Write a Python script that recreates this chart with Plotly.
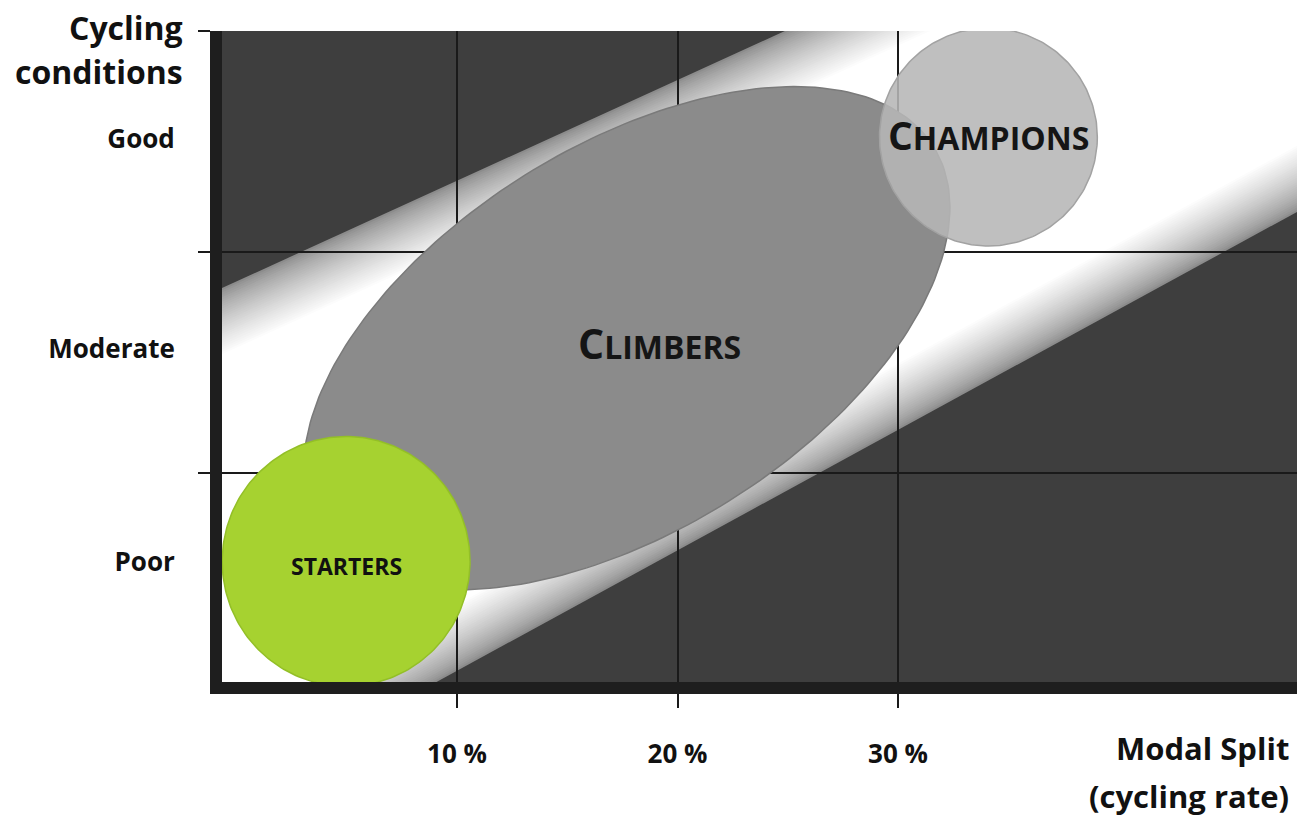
import numpy as np
import plotly.graph_objects as go

# ---------------- data ----------------
segments = ["STARTERS", "CLIMBERS", "CHAMPIONS"]
seg_x = [4.97, 17.7, 34.1]        # centre, modal split (%)
seg_y = [0.60, 1.61, 2.52]        # centre, cycling conditions (level)
seg_rx = [5.62, 16.4, 4.94]       # half extent along main axis (% units)
seg_ry = [0.565, 0.87, 0.493]     # half extent across main axis (level units)
seg_angle = [0, 32, 0]            # tilt of main axis (degrees, screen space)

label_x = [4.97, 19.2, 34.1]
label_y = [0.58, 1.59, 2.53]

x_tick_vals = [10, 20, 30]
x_tick_text = ["10 %", "20 %", "30 %"]
y_label_vals = [0.60, 1.56, 2.51]
y_label_text = ["Poor", "Moderate", "Good"]
y_boundaries = [1, 2, 3]

# favourable band (edge lines: intercept, slope in data units)
band_upper = [1.867, 0.04556]
band_lower = [-0.440, 0.0545]

# ---------------- layout geometry ----------------
W, H = 1297, 816
ML, MR, MT, MB = 222, 0, 31, 134
X_RANGE = [-0.658, 48.095]
Y_RANGE = [0.0543, 3.0]
PW, PH = W - ML - MR, H - MT - MB
PX_X = PW / (X_RANGE[1] - X_RANGE[0])
PX_Y = PH / (Y_RANGE[1] - Y_RANGE[0])

FONT = "Open Sans"
fig = go.Figure()

# ---------------- band background (gradient via nested polygons) ----------------
shapes = []
n_steps = 30
for i in range(n_steps):
    f = i / (n_steps - 1)
    d = 0.30 * f
    g = int(140 + (255 - 140) * (f ** 0.75))
    xa, xb = -3, 52
    ua = band_upper[0] + band_upper[1] * xa - d
    ub = band_upper[0] + band_upper[1] * xb - d
    la = band_lower[0] + band_lower[1] * xa + d
    lb = band_lower[0] + band_lower[1] * xb + d
    path = f"M {xa},{ua} L {xb},{ub} L {xb},{lb} L {xa},{la} Z"
    shapes.append(dict(type="path", path=path, xref="x", yref="y", layer="below",
                       fillcolor=f"rgb({g},{g},{g})", line=dict(width=0)))

# ---------------- segments ----------------
fills = ["#a6d230", "#8b8b8b", "rgba(182,182,182,0.88)"]
lines = ["#93bf27", "#7a7a7a", "#a2a2a2"]
order = [1, 2, 0]
t = np.linspace(0, 2 * np.pi, 241)
for k in order:
    a = seg_rx[k] * PX_X
    b = seg_ry[k] * PX_Y
    th = np.deg2rad(seg_angle[k])
    u = a * np.cos(t)
    w = b * np.sin(t)
    dx = u * np.cos(th) - w * np.sin(th)
    dy = u * np.sin(th) + w * np.cos(th)
    fig.add_trace(go.Scatter(
        x=seg_x[k] + dx / PX_X, y=seg_y[k] + dy / PX_Y,
        mode="lines", fill="toself", fillcolor=fills[k],
        line=dict(color=lines[k], width=1.5), hoverinfo="skip", showlegend=False,
        name=segments[k]))

# ---------------- labels ----------------
ann = []
ann.append(dict(x=label_x[0], y=label_y[0], xref="x", yref="y", showarrow=False,
                text="STARTERS", font=dict(family=FONT, size=23, color="#111", weight=700)))
for k in (1, 2):
    name = segments[k]
    big = 41 if k == 1 else 39
    small = 32
    txt = f"<span style='font-size:{big}px'>{name[0]}</span>{name[1:]}"
    ann.append(dict(x=label_x[k], y=label_y[k], xref="x", yref="y", showarrow=False,
                    text=txt, font=dict(family=FONT, size=small, color="#151515", weight=700)))


def paper_xy(px, py):
    return (px - ML) / PW, (H - MB - py) / PH


for txt, py in (("Cycling", 28), ("conditions", 71)):
    xp, yp = paper_xy(185, py)
    ann.append(dict(x=xp, y=yp, xref="paper", yref="paper", xanchor="right",
                    yanchor="middle", showarrow=False, text=txt,
                    font=dict(family=FONT, size=32, color="#111", weight=700)))
for txt, py in (("Modal Split", 748), ("(cycling rate)", 796)):
    xp, yp = paper_xy(1291, py)
    ann.append(dict(x=xp, y=yp, xref="paper", yref="paper", xanchor="right",
                    yanchor="middle", showarrow=False, text=txt,
                    font=dict(family=FONT, size=31, color="#111", weight=700)))

fig.update_layout(
    width=W, height=H, autosize=False,
    margin=dict(l=ML, r=MR, t=MT, b=MB, pad=0),
    paper_bgcolor="white", plot_bgcolor="#3e3e3e",
    shapes=shapes, annotations=ann, showlegend=False,
)
fig.update_xaxes(
    range=X_RANGE, fixedrange=True, zeroline=False,
    tickmode="array", tickvals=x_tick_vals, ticktext=x_tick_text,
    ticks="outside", ticklen=14, tickwidth=1.5, tickcolor="#1a1a1a",
    showgrid=True, gridcolor="#1a1a1a", gridwidth=1.5,
    showline=True, linewidth=12, linecolor="#1e1e1e",
    ticklabelstandoff=24,
    tickfont=dict(family=FONT, size=26, color="#111", weight=700),
)
fig.update_yaxes(
    range=Y_RANGE, fixedrange=True, zeroline=False,
    tickmode="array", tickvals=y_label_vals, ticktext=y_label_text,
    ticks="", showgrid=False,
    showline=True, linewidth=12, linecolor="#1e1e1e",
    ticklabelstandoff=30,
    tickfont=dict(family=FONT, size=26, color="#111", weight=700),
    minor=dict(tickmode="array", tickvals=y_boundaries, ticks="outside", ticklen=12,
               tickwidth=1.5, tickcolor="#1a1a1a", showgrid=True,
               gridcolor="#1a1a1a", gridwidth=1.5),
)

fig.write_html("out.html", config={"displayModeBar": False},
               post_script="document.body.style.margin='0';")
